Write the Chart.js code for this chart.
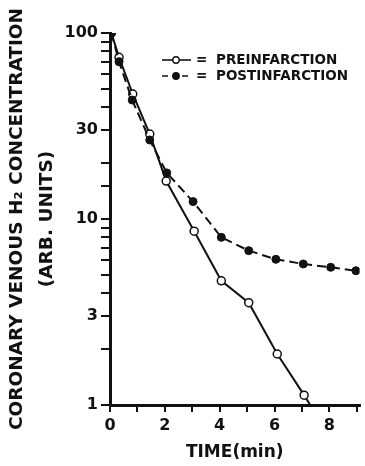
<!DOCTYPE html>
<html>
<head>
<meta charset="utf-8">
<script src="https://cdn.jsdelivr.net/npm/chart.js@4.4.0/dist/chart.umd.min.js"></script>
<style>
  html, body { margin: 0; padding: 0; background: #fff; }
  canvas { display: block; }
</style>
</head>
<body>
<canvas id="chart" width="365" height="466"></canvas>
<script>
// time (min) and concentration (arb. units)
const preTimes = [0.05, 0.33, 0.83, 1.45, 2.05, 3.07, 4.06, 5.06, 6.1, 7.08, 8.05];
const preValues = [100, 74, 47, 28.6, 16.0, 8.6, 4.65, 3.55, 1.88, 1.13, 0.66];
const postTimes = [0.05, 0.33, 0.81, 1.45, 2.07, 3.03, 4.06, 5.06, 6.05, 7.05, 8.05, 8.97];
const postValues = [100, 70, 43.6, 26.6, 17.7, 12.4, 7.97, 6.76, 6.07, 5.73, 5.50, 5.27];

const yTickLabels = [1, 3, 10, 30, 100];
const xTickLabels = [0, 2, 4, 6, 8];
const seriesNames = ['PREINFARCTION', 'POSTINFARCTION'];

const ink = '#111';

function toPoints(xs, ys) {
    return xs.map((x, i) => ({ x: x, y: ys[i] }));
}

// last pre point lies below the axis; only the line running into the axis shows
const preRadius = preValues.map(v => v < 1 ? 0 : 4);

const legendPlugin = {
    id: 'figLegend',
    afterDraw(chart) {
        const ctx = chart.ctx;
        const rows = [chart.data.datasets[1], chart.data.datasets[0]];
        ctx.save();
        rows.forEach((ds, i) => {
            const y = 60 + i * 16;
            ctx.strokeStyle = ink;
            ctx.lineWidth = 1.6;
            ctx.setLineDash(i === 1 ? [6, 4] : []);
            ctx.beginPath();
            ctx.moveTo(162, y);
            ctx.lineTo(191, y);
            ctx.stroke();
            ctx.setLineDash([]);
            ctx.beginPath();
            ctx.arc(176, y, 3.2, 0, Math.PI * 2);
            ctx.fillStyle = ds.pointBackgroundColor;
            ctx.fill();
            ctx.lineWidth = 1.4;
            ctx.stroke();
            ctx.fillStyle = ink;
            ctx.font = 'bold 13.5px "DejaVu Sans"';
            ctx.textBaseline = 'middle';
            ctx.fillText('=', 196, y);
            ctx.fillText(ds.label, 216, y);
        });
        ctx.restore();
    }
};

new Chart(document.getElementById('chart'), {
    type: 'line',
    data: {
        datasets: [{
            label: seriesNames[1],
            data: toPoints(postTimes, postValues),
            borderColor: ink,
            borderWidth: 2,
            borderDash: [9, 5],
            pointRadius: 4,
            pointBackgroundColor: ink,
            pointBorderColor: ink,
            pointBorderWidth: 1,
            tension: 0,
            order: 0
        }, {
            label: seriesNames[0],
            data: toPoints(preTimes, preValues),
            borderColor: ink,
            borderWidth: 2,
            pointRadius: preRadius,
            pointBackgroundColor: '#fff',
            pointBorderColor: ink,
            pointBorderWidth: 1.5,
            tension: 0,
            order: 1
        }]
    },
    options: {
        responsive: false,
        devicePixelRatio: 1,
        animation: false,
        layout: {
            padding: { top: 33, right: 0, bottom: 0, left: 0 }
        },
        scales: {
            x: {
                type: 'linear',
                min: 0,
                max: 9.1,
                afterFit: function(scale) { scale.height = 61; },
                border: { display: true, color: ink, width: 3 },
                grid: { drawOnChartArea: false, drawTicks: true, tickLength: 7, color: ink, lineWidth: 2 },
                ticks: {
                    stepSize: 1,
                    includeBounds: false,
                    autoSkip: false,
                    maxRotation: 0,
                    padding: 4,
                    color: ink,
                    font: { family: 'DejaVu Sans', size: 16, weight: 'bold' },
                    callback: function(val) {
                        return xTickLabels.includes(val) ? String(val) : '';
                    }
                },
                title: {
                    display: true,
                    text: 'TIME(min)',
                    color: ink,
                    font: { family: 'DejaVu Sans', size: 17, weight: 'bold', lineHeight: 1.2 },
                    padding: { top: 0, bottom: 3 }
                }
            },
            y: {
                type: 'logarithmic',
                min: 1,
                max: 100,
                afterFit: function(scale) { scale.width = 110; },
                border: { display: true, color: ink, width: 3 },
                grid: { drawOnChartArea: false, drawTicks: true, tickLength: 9, color: ink, lineWidth: 2 },
                ticks: {
                    autoSkip: false,
                    padding: 3,
                    color: ink,
                    font: { family: 'DejaVu Sans', size: 16, weight: 'bold' },
                    callback: function(val) {
                        return yTickLabels.includes(val) ? String(val) : '';
                    }
                },
                title: {
                    display: true,
                    text: ['CORONARY VENOUS H\u2082 CONCENTRATION', '(ARB. UNITS)'],
                    color: ink,
                    font: { family: 'DejaVu Sans', size: 18.5, weight: 'bold', lineHeight: 1.62 },
                    padding: { top: 2, bottom: 0 }
                }
            }
        },
        plugins: {
            legend: { display: false },
            tooltip: { enabled: false }
        }
    },
    plugins: [legendPlugin]
});
</script>
</body>
</html>
